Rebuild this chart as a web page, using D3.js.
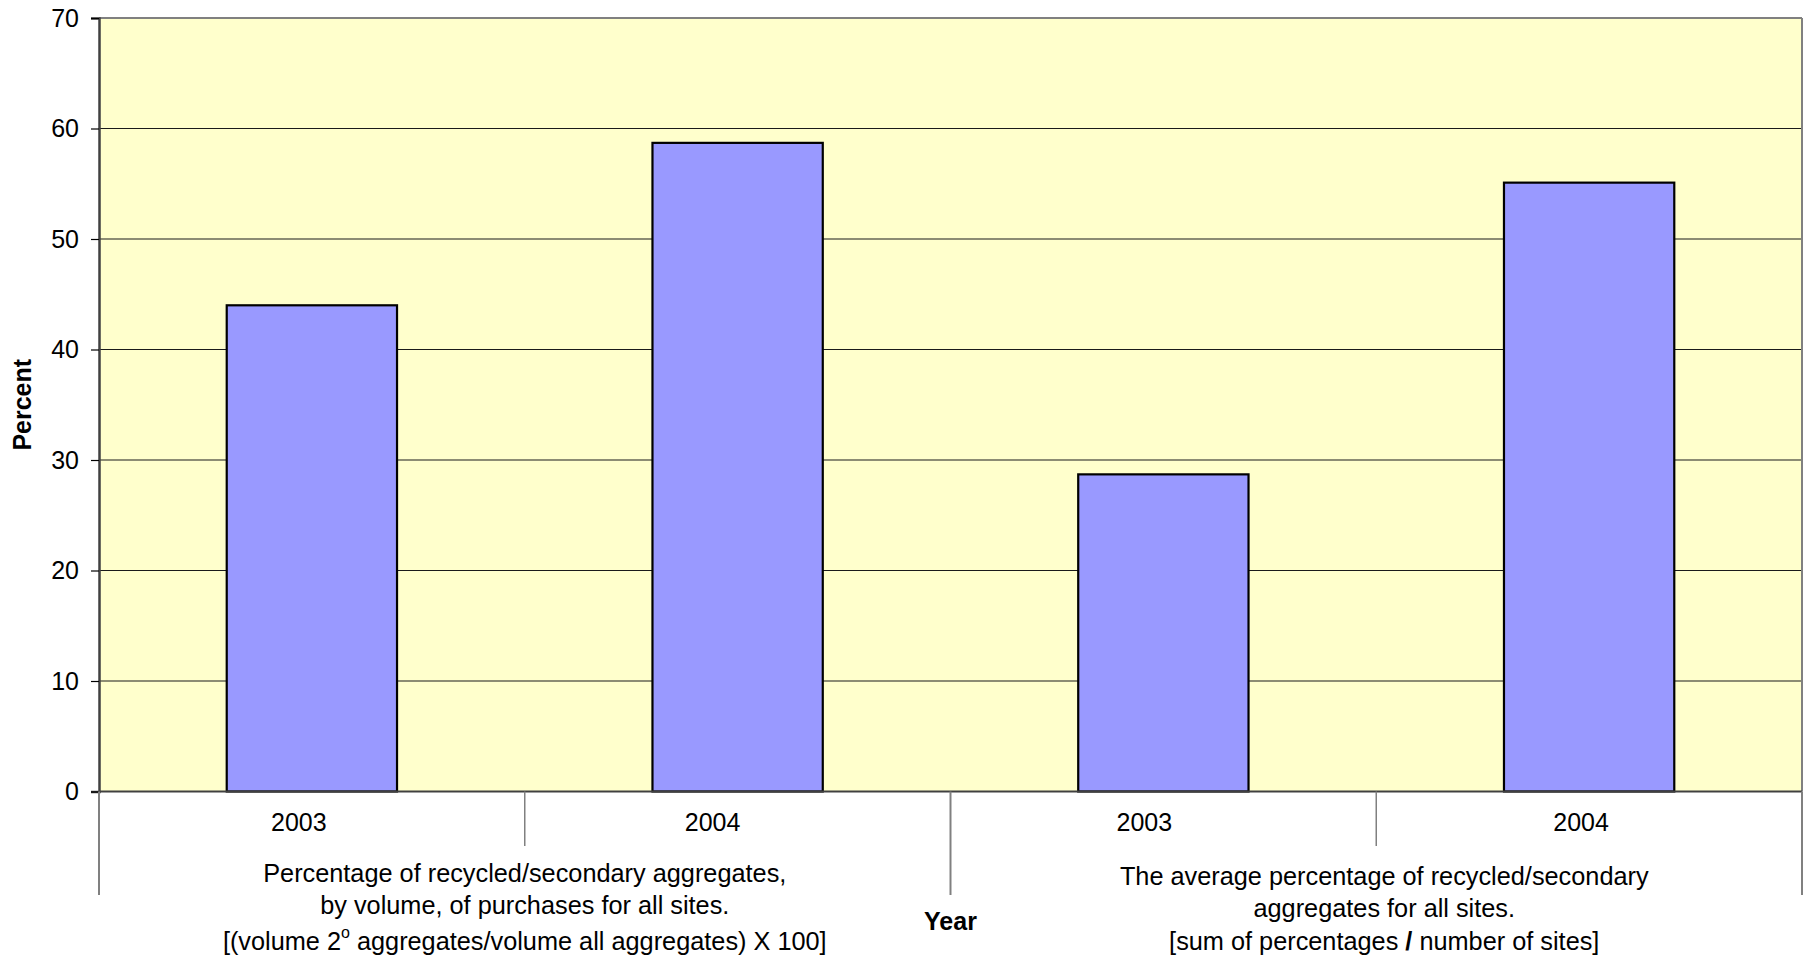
<!DOCTYPE html>
<html>
<head>
<meta charset="utf-8">
<script src="https://cdn.jsdelivr.net/npm/d3@7"></script>
<style>
  html, body { margin: 0; padding: 0; background: #ffffff; }
  svg { display: block; font-family: "Liberation Sans", Arial, sans-serif; }
</style>
</head>
<body>
<svg id="chart" width="1803" height="958"></svg>
<script>
// Year of each bar, left to right
const years = ["2003", "2004", "2003", "2004"];
// Percent of recycled/secondary aggregates for each bar
const values = [44.0, 58.7, 28.7, 55.1];
// Measure descriptions printed under the year labels (segments allow styling)
const groupLines = [
  [
    [{ t: "Percentage of recycled/secondary aggregates," }],
    [{ t: "by volume, of purchases for all sites." }],
    [{ t: "[(volume 2" }, { t: "o", sup: true }, { t: " aggregates/volume all aggregates) X 100]" }]
  ],
  [
    [{ t: "The average percentage of recycled/secondary" }],
    [{ t: "aggregates for all sites." }],
    [{ t: "[sum of percentages " }, { t: "/", bold: true }, { t: " number of sites]" }]
  ]
];
const yTicks = [0, 10, 20, 30, 40, 50, 60, 70];
const yLabel = "Percent";
const xLabel = "Year";

const svg = d3.select("#chart");
const mLeft = 99, mRight = 1802, mTop = 18, mBottom = 791.5;

const x = d3.scaleBand()
  .domain(d3.range(values.length))
  .range([mLeft, mRight])
  .paddingInner(0.6)
  .paddingOuter(0.3);

const xGroup = d3.scaleBand()
  .domain([0, 1])
  .range([mLeft, mRight]);

const y = d3.scaleLinear().domain([0, 70]).range([mBottom, mTop]);

// Plot background
svg.append("rect")
  .attr("x", mLeft).attr("y", mTop)
  .attr("width", mRight - mLeft).attr("height", mBottom - mTop)
  .attr("fill", "#FFFFCC");

// Horizontal gridlines
svg.append("g")
  .selectAll("line")
  .data(yTicks.filter(d => d > 0 && d < 70))
  .join("line")
  .attr("x1", mLeft).attr("x2", mRight)
  .attr("y1", d => y(d)).attr("y2", d => y(d))
  .attr("stroke", "#1a1a1a").attr("stroke-width", 1.2);

// Top and right frame
svg.append("line")
  .attr("x1", mLeft).attr("x2", mRight).attr("y1", mTop).attr("y2", mTop)
  .attr("stroke", "#808080").attr("stroke-width", 2);
svg.append("line")
  .attr("x1", mRight).attr("x2", mRight).attr("y1", mTop).attr("y2", mBottom)
  .attr("stroke", "#808080").attr("stroke-width", 2);

// Bars
svg.append("g")
  .selectAll("rect")
  .data(values)
  .join("rect")
  .attr("x", (d, i) => x(i))
  .attr("y", d => y(d))
  .attr("width", x.bandwidth())
  .attr("height", d => y(0) - y(d))
  .attr("fill", "#9999FF")
  .attr("stroke", "#000000")
  .attr("stroke-width", 2.2);

// Y axis
const yAxis = svg.append("g")
  .attr("transform", `translate(${mLeft},0)`)
  .call(d3.axisLeft(y).tickValues(yTicks).tickSize(8).tickPadding(12).tickFormat(d3.format("d")));
yAxis.select(".domain").attr("stroke", "#404040").attr("stroke-width", 2.5);
yAxis.selectAll(".tick line").attr("stroke", "#000").attr("stroke-width", 1.2);
yAxis.selectAll(".tick text")
  .attr("font-size", 25)
  .attr("fill", "#000")
  .attr("font-family", "Liberation Sans, Arial, sans-serif");

// X axis baseline
svg.append("line")
  .attr("x1", mLeft).attr("x2", mRight).attr("y1", mBottom).attr("y2", mBottom)
  .attr("stroke", "#404040").attr("stroke-width", 2);

// Year tick labels (nudged slightly left of the bar centres)
const labelNudge = [-13, -25, -19, -8];
const xAxis = svg.append("g")
  .attr("transform", `translate(0,${mBottom})`)
  .call(d3.axisBottom(x).tickSize(0).tickPadding(22).tickFormat(i => years[i]));
xAxis.select(".domain").remove();
xAxis.selectAll(".tick text")
  .attr("dx", i => labelNudge[i])
  .attr("font-size", 25)
  .attr("fill", "#000")
  .attr("font-family", "Liberation Sans, Arial, sans-serif");

// Separators between years (short) and between measures (long)
const step = x.step();
const yearEdges = d3.range(values.length + 1).map(i => mLeft + i * step);
svg.append("g")
  .selectAll("line")
  .data(yearEdges)
  .join("line")
  .attr("x1", d => d).attr("x2", d => d)
  .attr("y1", mBottom)
  .attr("y2", (d, i) => (i % 2 === 0 ? 895 : 846))
  .attr("stroke", "#808080").attr("stroke-width", (d, i) => (i % 2 === 0 ? 2 : 1.5));

// Measure descriptions
const lineY = [[875, 907, 943], [878, 910, 943]];
const groupNudge = [0, 8];
groupLines.forEach((lines, g) => {
  const cx = xGroup(g) + xGroup.bandwidth() / 2 + groupNudge[g];
  lines.forEach((segs, li) => {
    const t = svg.append("text")
      .attr("x", cx)
      .attr("y", lineY[g][li])
      .attr("text-anchor", "middle")
      .attr("dominant-baseline", "middle")
      .attr("font-size", 25.3)
      .attr("fill", "#000");
    segs.forEach(s => {
      const ts = t.append("tspan").text(s.t);
      if (s.sup) ts.attr("font-size", 16).attr("baseline-shift", "60%");
      if (s.bold) ts.attr("font-weight", "bold");
    });
  });
});

// Axis titles
svg.append("text")
  .attr("x", xGroup(1))
  .attr("y", 923)
  .attr("text-anchor", "middle")
  .attr("dominant-baseline", "middle")
  .attr("font-size", 25)
  .attr("font-weight", "bold")
  .attr("fill", "#000")
  .text(xLabel);

svg.append("text")
  .attr("transform", `translate(24,${(mTop + mBottom) / 2}) rotate(-90)`)
  .attr("text-anchor", "middle")
  .attr("dominant-baseline", "middle")
  .attr("font-size", 25)
  .attr("font-weight", "bold")
  .attr("fill", "#000")
  .text(yLabel);
</script>
</body>
</html>
